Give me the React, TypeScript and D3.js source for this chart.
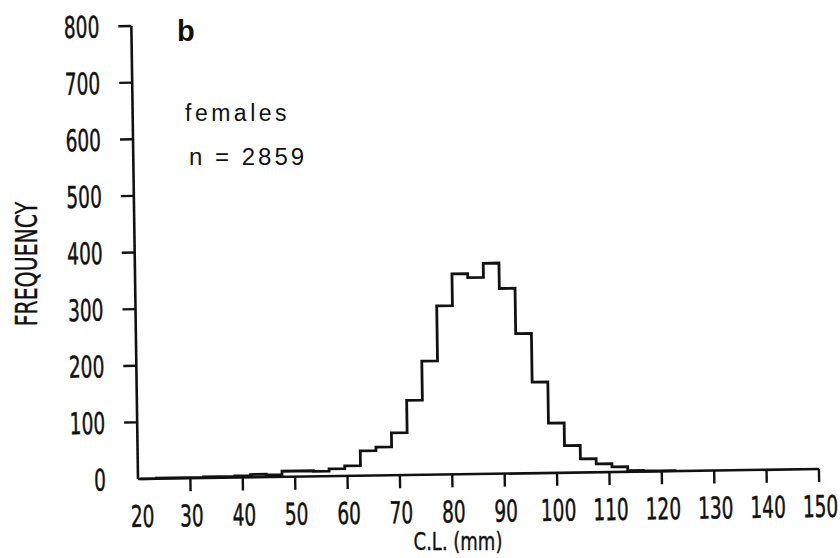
import React from "react";
import * as d3 from "d3";

// Class mid-points (mm) of 3-mm carapace-length classes and their frequencies
const classMids = [22, 25, 28, 31, 34, 37, 40, 43, 46, 49, 52, 55, 58, 61, 64, 67, 70, 73, 76, 79, 82, 85, 88, 91, 94, 97, 100, 103, 106, 109, 112, 115, 118, 121];
const frequencies = [0, 1, 1, 1, 2, 2, 3, 5, 4, 10, 10, 9, 13, 18, 44, 50, 75, 132, 201, 298, 354, 347, 372, 327, 247, 161, 88, 48, 24, 15, 9, 2, 1, 1];
const classWidth = 3;

const xTicks = [30, 40, 50, 60, 70, 80, 90, 100, 110, 120, 130, 140, 150];
const xTickLabels = ["20", "30", "40", "50", "60", "70", "80", "90", "100", "110", "120", "130", "140", "150"];
const xLabelValues = [20, 30, 40, 50, 60, 70, 80, 90, 100, 110, 120, 130, 140, 150];
const yTicks = [100, 200, 300, 400, 500, 600, 700, 800];
const yLabelValues = [0, 100, 200, 300, 400, 500, 600, 700, 800];

const ORIGIN_X = 138;
const ORIGIN_Y = 479;
const TILT = -0.84;
const INK = "#111";
const PLOT_FONT = "'DejaVu Sans', sans-serif";

export default function App() {
  const x = d3.scaleLinear().domain([20, 150]).range([ORIGIN_X, 819]);
  const y = d3.scaleLinear().domain([0, 800]).range([ORIGIN_Y, 26]);

  const pts: [number, number][] = [];
  classMids.forEach((m, i) => {
    const lo = m - classWidth / 2;
    const hi = m + classWidth / 2;
    if (i === 0) pts.push([lo, 0]);
    pts.push([lo, frequencies[i]]);
    pts.push([hi, frequencies[i]]);
    if (i === classMids.length - 1) pts.push([hi, 0]);
  });
  const line = d3
    .line<[number, number]>()
    .x((d) => x(d[0]))
    .y((d) => y(d[1]));

  return (
    <svg
      width={840}
      height={558}
      viewBox="0 0 840 558"
      style={{ position: "absolute", left: 0, top: 0, background: "#fff" }}
    >
      <rect x={0} y={0} width={840} height={558} fill="#fff" />
      <g transform={`rotate(${TILT}, ${ORIGIN_X}, ${ORIGIN_Y})`}>
        {/* axes */}
        <line x1={x(20)} x2={x(150)} y1={y(0)} y2={y(0)} stroke={INK} strokeWidth={2.6} />
        <line x1={x(20)} x2={x(20)} y1={y(0)} y2={y(800)} stroke={INK} strokeWidth={2.6} />
        {yTicks.map((t) => (
          <line key={"yt" + t} x1={x(20) - 13} x2={x(20)} y1={y(t)} y2={y(t)} stroke={INK} strokeWidth={2.4} />
        ))}
        {xTicks.map((t) => (
          <line key={"xt" + t} x1={x(t)} x2={x(t)} y1={y(0)} y2={y(0) + 13} stroke={INK} strokeWidth={2.4} />
        ))}
        {yLabelValues.map((t) => (
          <text
            key={"yl" + t}
            transform={`translate(${x(20) - 32},${y(t) + 11}) scale(0.62,1)`}
            textAnchor="end"
            fontFamily={PLOT_FONT}
            fontSize={30}
            fill={INK}
            stroke={INK}
            strokeWidth={0.5}
          >
            {String(t)}
          </text>
        ))}
        {xLabelValues.map((t, i) => (
          <text
            key={"xl" + t}
            transform={`translate(${x(t) + (i === 0 ? 4 : 1)},${y(0) + 48}) scale(0.62,1)`}
            textAnchor="middle"
            fontFamily={PLOT_FONT}
            fontSize={30}
            fill={INK}
            stroke={INK}
            strokeWidth={0.5}
          >
            {xTickLabels[i]}
          </text>
        ))}
        {/* histogram outline */}
        <path d={line(pts) || ""} fill="none" stroke={INK} strokeWidth={2.8} strokeLinejoin="miter" />
      </g>

      {/* axis titles */}
      <text
        transform="translate(37,264) rotate(-90) scale(0.66,1)"
        textAnchor="middle"
        fontFamily={PLOT_FONT}
        fontSize={31}
        fill={INK}
        stroke={INK}
        strokeWidth={0.4}
      >
        FREQUENCY
      </text>
      <text
        transform="translate(458,550) scale(0.72,1)"
        textAnchor="middle"
        fontFamily={PLOT_FONT}
        fontSize={25}
        fill={INK}
        stroke={INK}
        strokeWidth={0.4}
      >
        C.L. (mm)
      </text>

      {/* annotations */}
      <text x={177} y={41} fontFamily="'Liberation Sans', Arial, sans-serif" fontSize={29} fontWeight="bold" fill={INK}>
        b
      </text>
      <text x={185} y={121} fontFamily="'Liberation Sans', Arial, sans-serif" fontSize={23} letterSpacing={3.5} fill={INK}>
        females
      </text>
      <text x={189} y={165} fontFamily="'Liberation Sans', Arial, sans-serif" fontSize={24} letterSpacing={3} fill={INK}>
        n = 2859
      </text>
    </svg>
  );
}
